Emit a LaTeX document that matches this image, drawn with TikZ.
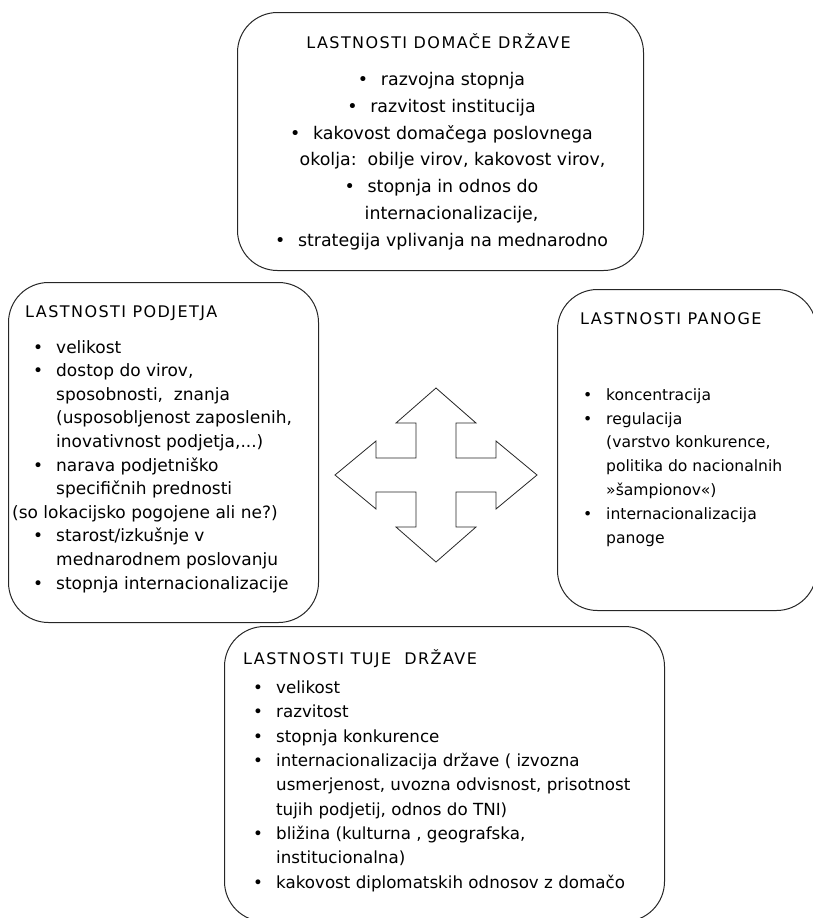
\documentclass[tikz,border=0pt]{standalone}
\usepackage{fontspec}
\setmainfont{DejaVu Sans}
\newfontfamily\headfont[LetterSpace=9]{DejaVu Sans}
\usepackage{tikz}
\usetikzlibrary{positioning}
\newcommand{\bul}{\makebox[23pt][l]{•}}
\newcommand{\ind}{\hspace*{23pt}}

\begin{document}
\begin{tikzpicture}[x=1pt, y=-1pt,
	box/.style={draw=black!85, line width=1pt, rounded corners=40pt, inner sep=0pt, anchor=north west},
	head/.style={font=\headfont\fontsize{16}{20}\selectfont, inner sep=0pt},
	body/.style={align=left, inner sep=0pt}]
	\useasboundingbox (0,0) rectangle (813,918);
	% Draw the boxes
	\node [box, minimum width=406pt, minimum height=258pt] at (237,12) (domaca) {};
	\node [box, minimum width=310pt, minimum height=340pt] at (8,282) (podjetje) {};
	\node [box, minimum width=259pt, minimum height=321pt] at (557,289) (panoga) {};
	\node [box, minimum width=440pt, minimum height=295pt] at (224,626) (tuja) {};
	% Top: domestic country (lists sit on their last line)
	\node [head, below=36.5pt of domaca.north, anchor=base, xshift=-2pt] (domacahead) {LASTNOSTI DOMAČE DRŽAVE};
	\node [body, align=center, font=\fontsize{17.4}{26.7}\selectfont, below=234pt of domaca.north, anchor=base, xshift=1pt] (domacalist) {%
		\bul razvojna stopnja\\
		\bul razvitost institucija\\
		\bul kakovost domačega poslovnega\\
		\hspace*{22pt}okolja:\ \ obilje virov, kakovost virov,\\
		\bul stopnja in odnos do\\
		\hspace*{20pt}internacionalizacije,\\
		\bul strategija vplivanja na mednarodno};
	% Left: company
	\node [head, below right=35pt and 17pt of podjetje.north west, anchor=base west] (podjetjehead) {LASTNOSTI PODJETJA};
	\node [body, font=\fontsize{17}{23.6}\selectfont, below right=307pt and 25pt of podjetje.north west, anchor=base west] (podjetjelist) {%
		\bul velikost\\
		\bul dostop do virov,\\
		\ind sposobnosti,\ \ znanja\\
		\ind (usposobljenost zaposlenih,\\
		\ind inovativnost podjetja,...)\\
		\bul narava podjetniško\\
		\ind specifičnih prednosti\\
		\hspace*{-21pt}(so lokacijsko pogojene ali ne?)\\
		\bul starost/izkušnje v\\
		\ind mednarodnem poslovanju\\
		\bul stopnja internacionalizacije};
	% Right: industry
	\node [head, below right=35pt and 23pt of panoga.north west, anchor=base west] (panogahead) {LASTNOSTI PANOGE};
	\node [body, font=\fontsize{15.6}{23.8}\selectfont, below right=254pt and 26pt of panoga.north west, anchor=base west] (panogalist) {%
		\bul koncentracija\\
		\bul regulacija\\
		\ind (varstvo konkurence,\\
		\ind politika do nacionalnih\\
		\ind »šampionov«)\\
		\bul internacionalizacija\\
		\ind panoge};
	% Bottom: foreign country
	\node [head, below right=38pt and 19pt of tuja.north west, anchor=base west] (tujahead) {LASTNOSTI TUJE\ \ DRŽAVE};
	\node [body, font=\fontsize{16.7}{24.3}\selectfont, below right=262pt and 29pt of tuja.north west, anchor=base west] (tujalist) {%
		\bul velikost\\
		\bul razvitost\\
		\bul stopnja konkurence\\
		\bul internacionalizacija države ( izvozna\\
		\ind usmerjenost, uvozna odvisnost, prisotnost\\
		\ind tujih podjetij, odnos do TNI)\\
		\bul bližina (kulturna , geografska,\\
		\ind institucionalna)\\
		\bul kakovost diplomatskih odnosov z domačo};
	% Four-way arrow in the middle
	\coordinate (cross) at (436,475);
	\draw [draw=black!85, line width=0.8pt, shift={(cross)}]
		(0,-87) -- (40,-52) -- (20,-52) -- (20,-17) -- (60,-17) -- (60,-34) -- (101,0)
		-- (60,34) -- (60,17) -- (20,17) -- (20,52) -- (40,52) -- (0,87)
		-- (-40,52) -- (-20,52) -- (-20,17) -- (-60,17) -- (-60,34) -- (-101,0)
		-- (-60,-34) -- (-60,-17) -- (-20,-17) -- (-20,-52) -- (-40,-52) -- cycle;
\end{tikzpicture}
\end{document}
